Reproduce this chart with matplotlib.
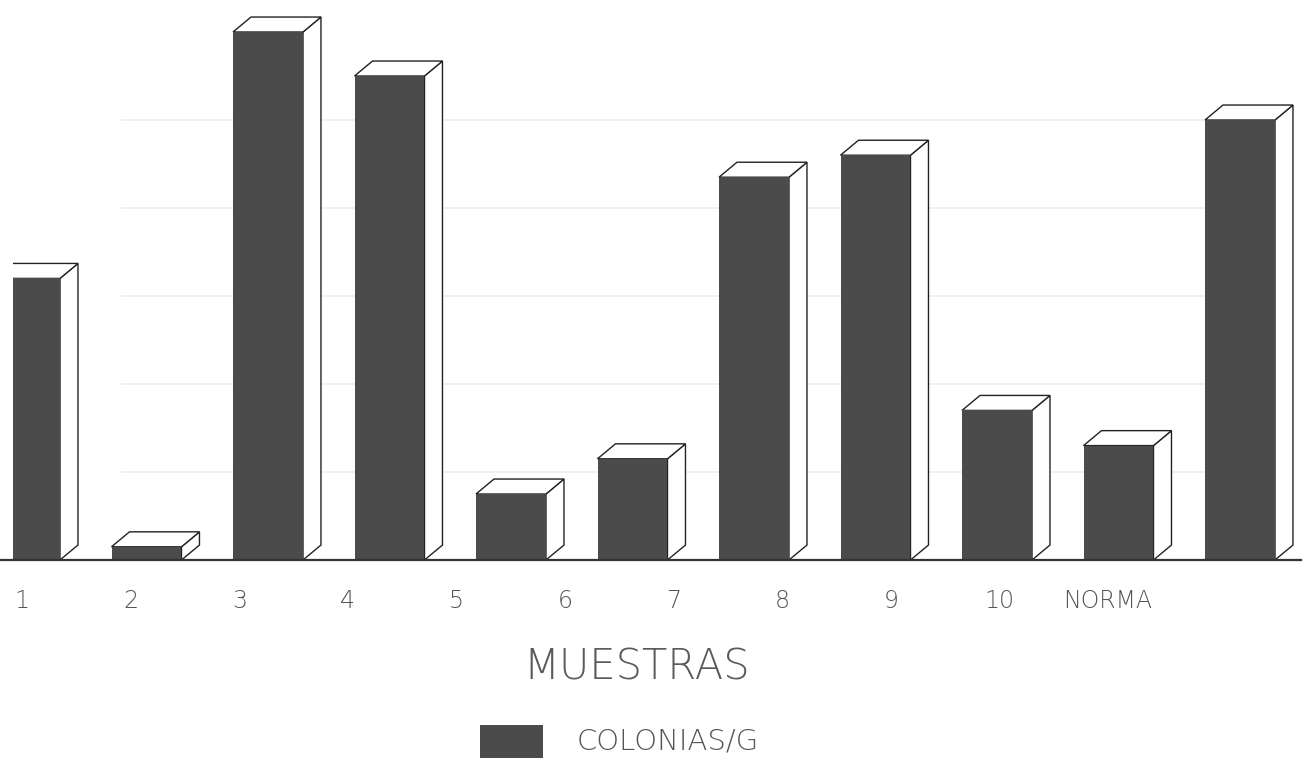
import matplotlib
matplotlib.use("Agg")
import matplotlib.pyplot as plt
from matplotlib.patches import Polygon, Rectangle

# recuento por muestra (escala de la cuadricula)
muestras = ["1", "2", "3", "4", "5", "6", "7", "8", "9", "10", "NORMA"]
colonias = [3.2, 0.15, 6.0, 5.5, 0.75, 1.15, 4.35, 4.6, 1.7, 1.3, 5.0]
rejilla = [1, 2, 3, 4, 5]

BAR_COLOR = "#4b4b4b"
ANCHO = 0.576
DX = 0.148
DY = 0.17


def barras3d(ax, xs, alturas):
    for x, h in zip(xs, alturas):
        x0 = x - ANCHO / 2
        x1 = x + ANCHO / 2
        ax.bar(x, h, width=ANCHO, color=BAR_COLOR, zorder=3, linewidth=0)
        lado = Polygon([(x1, 0), (x1 + DX, DY), (x1 + DX, h + DY), (x1, h)],
                       closed=True, facecolor="white", edgecolor="#222222",
                       linewidth=1.0, zorder=2)
        tapa = Polygon([(x0, h), (x1, h), (x1 + DX, h + DY), (x0 + DX, h + DY)],
                       closed=True, facecolor="white", edgecolor="#222222",
                       linewidth=1.0, zorder=2)
        ax.add_patch(lado)
        ax.add_patch(tapa)


fig = plt.figure(figsize=(13.1, 7.7), dpi=100)
ax = fig.add_axes([13 / 1310, 210 / 770, 1 - 13 / 1310, 560 / 770])

pos = list(range(len(muestras)))
barras3d(ax, pos, colonias)

# cuadricula tenue
for g in rejilla:
    ax.plot([0.8, 9.7], [g, g], color="#ededed", linewidth=1.2, zorder=1)

# linea base
ax.plot([-0.2, 10.5], [0, 0], color="#333333", linewidth=1.6, zorder=4,
        clip_on=False)

ax.set_xlim((13 - 25) / 121.5, (1310 - 25) / 121.5)
ax.set_ylim(0, 560 / 88)
for s in ax.spines.values():
    s.set_visible(False)
ax.set_yticks([])

etiquetas_x = [(22 + 108.6 * i - 25) / 121.5 for i in pos]
ax.set_xticks(etiquetas_x)
ax.set_xticklabels(muestras, fontsize=17, color="#555555", fontweight="light")
ax.tick_params(axis="x", length=0, pad=21)

fig.text(637 / 1310, 1 - 667 / 770, "MUESTRAS", fontsize=30, color="#5a5a5a",
         fontweight="light", ha="center", va="center")

fig.patches.append(Rectangle((480 / 1310, 1 - 758 / 770), 63 / 1310, 33 / 770,
                             transform=fig.transFigure, facecolor=BAR_COLOR,
                             edgecolor="none"))
fig.text(577 / 1310, 1 - 741 / 770, "COLONIAS/G", fontsize=21, color="#555555",
         fontweight="light", ha="left", va="center")

fig.savefig("out.png", dpi=100, facecolor="white")
